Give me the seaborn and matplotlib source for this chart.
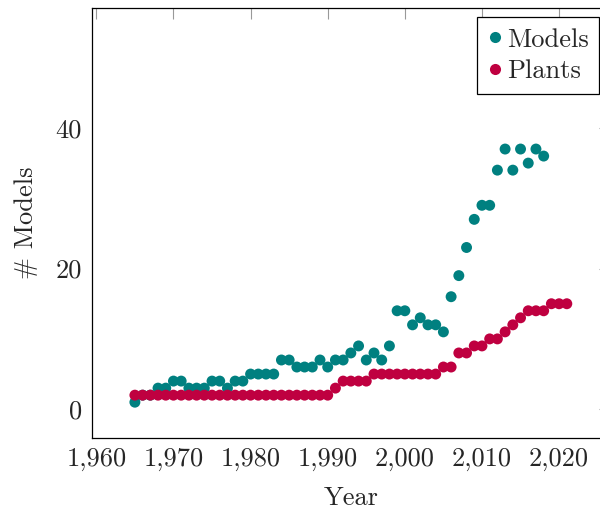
import matplotlib
matplotlib.use("Agg")
import matplotlib.pyplot as plt
import matplotlib.ticker as mticker
import seaborn as sns
import pandas as pd

years_models = list(range(1965, 2019))
models = [1, 2, 2, 3, 3, 4, 4, 3, 3, 3,
          4, 4, 3, 4, 4, 5, 5, 5, 5, 7,
          7, 6, 6, 6, 7, 6, 7, 7, 8, 9,
          7, 8, 7, 9, 14, 14, 12, 13, 12, 12,
          11, 16, 19, 23, 27, 29, 29, 34, 37, 34,
          37, 35, 37, 36]
years_plants = list(range(1965, 2022))
plants = [2] * 26 + [3, 4, 4, 4, 4,
                     5, 5, 5, 5, 5, 5, 5, 5, 5,
                     6, 6, 8, 8, 9, 9, 10, 10, 11, 12, 13,
                     14, 14, 14, 15, 15, 15]
series_names = ["Models", "Plants"]
colors = ["#008080", "#BF0040"]

df = pd.concat([
    pd.DataFrame({"Year": years_models, "Count": models, "Series": series_names[0]}),
    pd.DataFrame({"Year": years_plants, "Count": plants, "Series": series_names[1]}),
], ignore_index=True)

sns.set_style("white")
plt.rcParams["font.family"] = ["cmr10", "DejaVu Serif"]
plt.rcParams["mathtext.fontset"] = "cm"
plt.rcParams["axes.unicode_minus"] = False
plt.rcParams["axes.formatter.use_mathtext"] = True

W, H = 600, 514
FS = 19
fig = plt.figure(figsize=(6, 5.14), dpi=100)
ax_l, ax_r, ax_t, ax_b = 91.7, 610.0, 7.7, 437.7
ax = fig.add_axes([ax_l / W, 1 - ax_b / H, (ax_r - ax_l) / W, (ax_b - ax_t) / H])

sns.scatterplot(data=df, x="Year", y="Count", hue="Series", hue_order=series_names,
                palette=colors, s=62, linewidth=0, ax=ax, legend=True)

ax.set_xlim(1959.4, 2026.6)
ax.set_ylim(-4.05, 57.1)
ax.set_xticks([1960, 1970, 1980, 1990, 2000, 2010, 2020])
ax.set_yticks([0, 20, 40])
ax.xaxis.set_major_formatter(mticker.FuncFormatter(lambda v, p: f"{int(v):,}"))
ax.yaxis.set_major_formatter(mticker.FuncFormatter(lambda v, p: f"{int(v)}"))
ax.tick_params(direction="in", top=True, right=True, length=8, width=0.8,
               color="0.6", labelsize=FS, pad=7)
for sp in ax.spines.values():
    sp.set_color("black")
    sp.set_linewidth(0.9)

ax.set_xlabel("Year", fontsize=FS, labelpad=11)
ax.set_ylabel("# Models", fontsize=FS, labelpad=13)

handles, labels = ax.get_legend_handles_labels()
for h in handles:
    h.set_markersize(8)
leg = ax.legend(handles, labels, loc="upper right",
                bbox_to_anchor=((599.3 - ax_l) / (ax_r - ax_l), (ax_b - 17.3) / (ax_b - ax_t)),
                borderaxespad=0, fancybox=False, edgecolor="black", framealpha=1,
                fontsize=FS, handletextpad=0.15, handlelength=0.6, borderpad=0.4,
                labelspacing=0.3, markerscale=1.0)
leg.get_frame().set_linewidth(0.9)

fig.savefig("out.png", dpi=100)
